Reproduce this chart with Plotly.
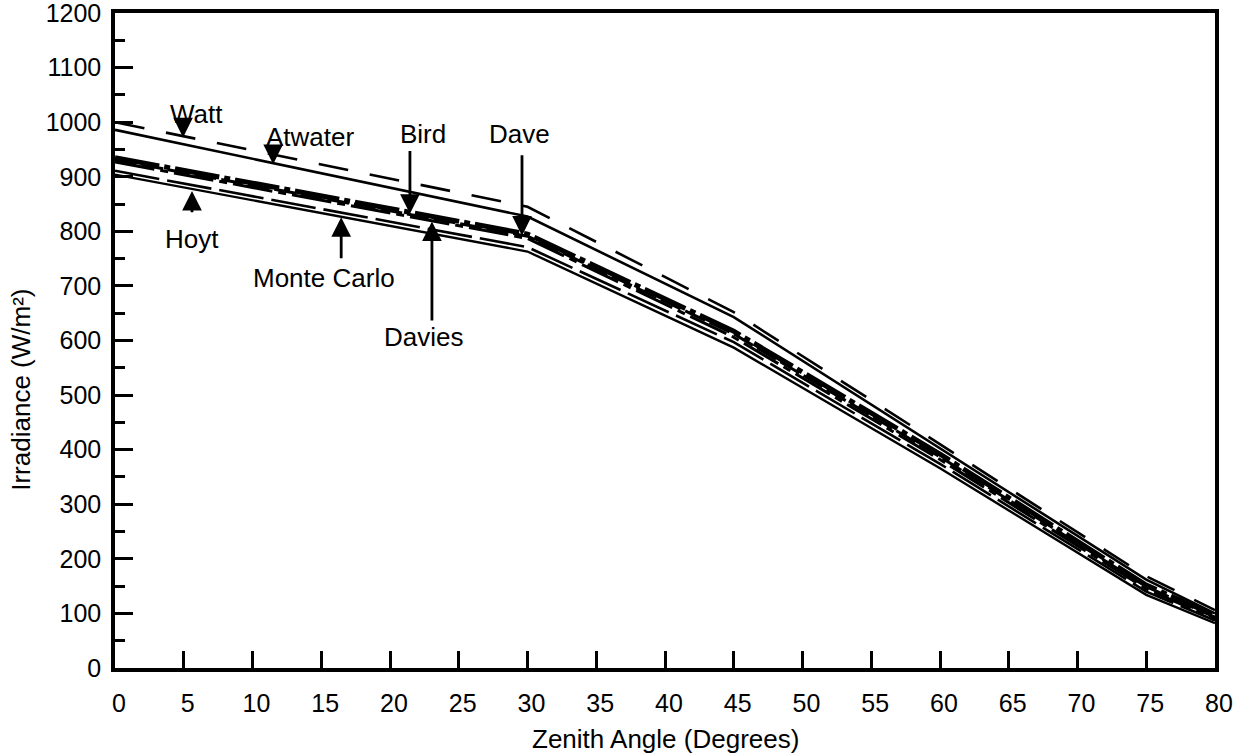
import plotly.graph_objects as go

# ---- data ----
zenith = [0, 30, 45, 60, 75, 80]
watt = [1000, 845, 652, 410, 168, 106]
atwater = [986, 827, 643, 402, 162, 100]
bird = [935, 795, 617, 392, 152, 96]
dave = [931, 791, 612, 387, 149, 93]
davies = [927, 787, 606, 382, 145, 90]
hoyt = [911, 771, 597, 374, 140, 87]
monte_carlo = [904, 763, 587, 366, 134, 82]

x_ticks = list(range(0, 81, 5))
y_ticks = list(range(0, 1201, 100))

# label positions (text) and arrows (tail -> tip), in data units
labels = [
    ("Watt", 5.9, 1015),
    ("Atwater", 14.2, 973),
    ("Bird", 22.4, 978),
    ("Dave", 29.4, 978),
    ("Hoyt", 5.6, 786),
    ("Monte Carlo", 15.2, 714),
    ("Davies", 22.4, 606),
]
arrows = [  # x_tip, y_tip, x_tail, y_tail
    (4.95, 972, 4.95, 1000),
    (11.5, 923, 11.5, 949),
    (21.45, 832, 21.45, 950),
    (29.6, 792, 29.6, 942),
    (5.6, 874, 5.6, 832),
    (16.45, 826, 16.45, 748),
    (23.05, 818, 23.05, 634),
]

FONT = "Liberation Sans, Arial, Helvetica, sans-serif"
fig = go.Figure()

series = [
    ("Watt", watt, dict(color="black", width=2.6, dash="30px,22px")),
    ("Atwater", atwater, dict(color="black", width=2.6)),
    ("Bird", bird, dict(color="black", width=5, dash="45px,5px,6px,5px")),
    ("Dave", dave, dict(color="black", width=3, dash="22px,5px")),
    ("Davies", davies, dict(color="black", width=3, dash="40px,6px,8px,6px")),
    ("Hoyt", hoyt, dict(color="black", width=2.6, dash="45px,8px")),
    ("Monte Carlo", monte_carlo, dict(color="black", width=2.4)),
]
for name, vals, line in series:
    fig.add_trace(go.Scatter(x=zenith, y=vals, mode="lines", name=name,
                             line=line, showlegend=False))

for text, x, y in labels:
    fig.add_annotation(x=x, y=y, text=text, showarrow=False,
                       font=dict(family=FONT, size=26, color="black"))
for xt, yt, xa, ya in arrows:
    fig.add_annotation(x=xt, y=yt, ax=xa, ay=ya, axref="x", ayref="y",
                       text="", showarrow=True, arrowhead=2, arrowsize=1.4,
                       arrowwidth=2.8, arrowcolor="black", standoff=0)

# axis titles
fig.add_annotation(xref="paper", yref="paper", x=0.5, y=-0.108,
                   text="Zenith Angle (Degrees)", showarrow=False,
                   yanchor="middle",
                   font=dict(family=FONT, size=26, color="black"))
fig.add_annotation(xref="paper", yref="paper", x=-0.085, y=0.424,
                   text="Irradiance (W/m²)", showarrow=False, textangle=-90,
                   xanchor="center", yanchor="middle",
                   font=dict(family=FONT, size=26, color="black"))

fig.update_layout(
    width=1235, height=755, autosize=False,
    margin=dict(l=115, r=20, t=13, b=87),
    plot_bgcolor="white", paper_bgcolor="white",
    font=dict(family=FONT, size=25, color="black"),
    xaxis=dict(range=[0, 80], tickvals=x_ticks, ticktext=[str(v) for v in x_ticks],
               ticks="inside", ticklen=17, tickwidth=2.5, tickcolor="black",
               showline=True, linewidth=3.5, linecolor="black", mirror=True,
               showgrid=False, zeroline=False, ticklabelstandoff=10,
               ticklabelshift=4, automargin=False, ticklabeloverflow="allow",
               tickfont=dict(size=25)),
    yaxis=dict(range=[0, 1200], tickvals=y_ticks, ticktext=[str(v) for v in y_ticks],
               ticks="inside", ticklen=18, tickwidth=2.8, tickcolor="black",
               minor=dict(dtick=50, ticks="inside", ticklen=10, tickwidth=2.5,
                          tickcolor="black"),
               showline=True, linewidth=3.5, linecolor="black", mirror=True,
               showgrid=False, zeroline=False, ticklabelstandoff=5,
               automargin=False, ticklabeloverflow="allow",
               tickfont=dict(size=25)),
)

fig.write_html("out.html", config={"displayModeBar": False},
               post_script="document.body.style.margin='0';")
